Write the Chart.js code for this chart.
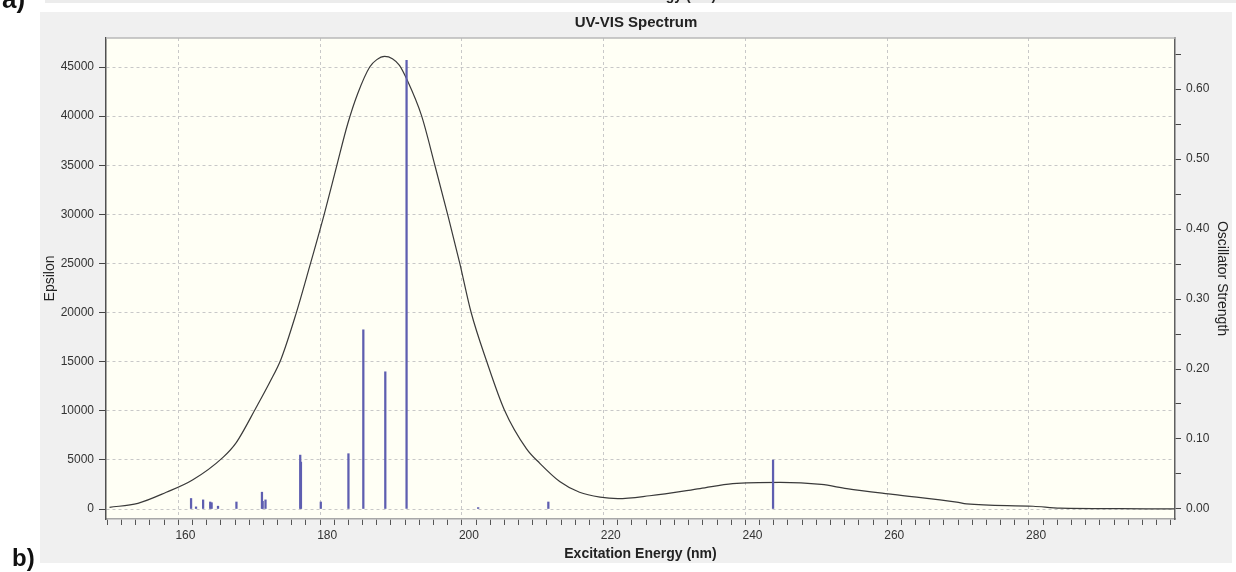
<!DOCTYPE html>
<html>
<head>
<meta charset="utf-8">
<script src="https://cdn.jsdelivr.net/npm/chart.js@4.4.1/dist/chart.umd.min.js"></script>
<style>
    html, body { margin: 0; padding: 0; background: #ffffff; }
    #wrap { width: 1236px; height: 572px; }
</style>
</head>
<body>
<div id="wrap"><canvas id="uvvis" width="1236" height="572"></canvas></div>
<script>
// Spectrum curve (Epsilon vs wavelength)
const waveNm = [149.3, 153.3, 157.3, 161.0, 165.3, 167.2, 170.0, 171.9, 173.5, 175.6,
    177.5, 179.6, 181.3, 182.9, 184.3, 186.0, 187.0, 188.1, 189.2, 190.2,
    191.2, 193.3, 195.2, 197.1, 198.7, 200.3, 202.5, 205.0, 208.1, 210.0,
    212.8, 215.6, 218.5, 221.0, 225.5, 232.6, 237.2, 243.9, 249.7, 253.3,
    259.8, 268.8, 270.2, 279.6, 283.4, 291.9, 299.5];
const epsilon = [170, 580, 1700, 2950, 5260, 6790, 10360, 12900, 15280, 19870,
    24620, 30050, 34800, 39220, 42280, 45000, 45750, 46080, 45850, 45170,
    43800, 40070, 34975, 29700, 25030, 20030, 15040, 10085, 6150, 4650,
    2800, 1700, 1200, 1050, 1350, 2080, 2580, 2720, 2500, 2080,
    1480, 700, 520, 280, 80, 30, 10];

// Excited states (oscillator strength sticks)
const stickNm = [160.8, 161.5, 162.5, 163.5, 163.7, 164.6, 167.2, 170.8, 170.9, 171.3,
    176.2, 176.3, 179.1, 183.0, 185.1, 188.2, 191.2, 201.3, 211.2, 242.9];
const stickStrength = [0.015, 0.003, 0.013, 0.010, 0.009, 0.004, 0.010, 0.024, 0.011, 0.013,
    0.077, 0.067, 0.010, 0.079, 0.256, 0.196, 0.641, 0.002, 0.010, 0.070];

// Axis ticks
const epsTicks = [0, 5000, 10000, 15000, 20000, 25000, 30000, 35000, 40000, 45000];
const oscTicks = [0, 0.05, 0.10, 0.15, 0.20, 0.25, 0.30, 0.35, 0.40, 0.45, 0.50, 0.55, 0.60, 0.65];
const xTickFirst = 150, xTickLast = 298, xTickStep = 2, xLabelStep = 20;

const FONT = '"Liberation Sans", Arial, sans-serif';
Chart.defaults.font.family = FONT;
Chart.defaults.color = "#333";

const backdrop = {
    id: "backdrop",
    beforeDraw(chart) {
        const { ctx, chartArea: a } = chart;
        ctx.save();
        ctx.fillStyle = "#ffffff";
        ctx.fillRect(0, 0, chart.width, chart.height);
        ctx.fillStyle = "#ececec";
        ctx.fillRect(45, 0, chart.width - 45, 3);
        ctx.fillStyle = "#f0f0f0";
        ctx.fillRect(40, 12, 1192, 551);
        ctx.fillStyle = "#fffff5";
        ctx.fillRect(a.left, a.top, a.right - a.left, a.bottom - a.top);

        ctx.fillStyle = "#111";
        ctx.font = "bold 26px " + FONT;
        ctx.textBaseline = "alphabetic";
        ctx.fillText("a)", 2, 8);
        ctx.font = "bold 24px " + FONT;
        ctx.fillText("b)", 12, 566);
        ctx.font = "bold 14px " + FONT;
        ctx.textAlign = "center";
        ctx.fillStyle = "#222";
        ctx.fillText("Excitation Energy (nm)", 640, 0);
        ctx.restore();
    },
    afterDatasetsDraw(chart) {
        const { ctx, chartArea: a } = chart;
        ctx.save();
        ctx.strokeStyle = "#b8b8b8";
        ctx.lineWidth = 1.5;
        ctx.beginPath();
        ctx.moveTo(a.left, a.top);
        ctx.lineTo(a.right, a.top);
        ctx.stroke();
        ctx.restore();
    }
};

const ctx = document.getElementById("uvvis").getContext("2d");

new Chart(ctx, {
    type: "line",
    data: {
        datasets: [
            {
                type: "bar",
                label: "Oscillator Strength",
                data: stickNm.map((x, i) => ({ x: x, y: stickStrength[i] })),
                xAxisID: "x",
                yAxisID: "y2",
                backgroundColor: "#5e5eb0",
                borderWidth: 0,
                barThickness: 1.6,
                grouped: false,
                order: 0
            },
            {
                type: "line",
                label: "Epsilon",
                data: waveNm.map((x, i) => ({ x: x, y: epsilon[i] })),
                xAxisID: "x",
                yAxisID: "y",
                borderColor: "#3a3a3a",
                borderWidth: 1.2,
                pointRadius: 0,
                cubicInterpolationMode: "monotone",
                fill: false,
                order: 1
            }
        ]
    },
    options: {
        responsive: false,
        animation: false,
        layout: { padding: { left: 40, right: 4, top: 12, bottom: 9 } },
        plugins: {
            legend: { display: false },
            tooltip: { enabled: false },
            title: {
                display: true,
                text: "UV-VIS Spectrum",
                color: "#222",
                font: { size: 15, weight: "bold" },
                padding: { top: 2, bottom: 6 }
            }
        },
        scales: {
            x: {
                type: "linear",
                position: "bottom",
                min: 148.8,
                max: 299.6,
                offset: false,
                afterBuildTicks: (scale) => {
                    const t = [];
                    for (let v = xTickFirst; v <= xTickLast; v += xTickStep) t.push({ value: v });
                    scale.ticks = t;
                },
                afterFit: (scale) => { scale.height = 44; },
                grid: {
                    color: (c) => (c.tick && c.tick.value % xLabelStep === 0) ? "#c8c8c8" : "rgba(0,0,0,0)",
                    tickColor: "#555",
                    tickLength: 6,
                    tickBorderDash: []
                },
                border: { color: "#a8a8a8", width: 1.5, dash: [3, 3] },
                ticks: {
                    autoSkip: false,
                    maxRotation: 0,
                    padding: 3,
                    color: "#333",
                    font: { size: 12 },
                    callback: (v) => (v % xLabelStep === 0 ? v : "")
                },
                title: {
                    display: true,
                    text: "Excitation Energy (nm)",
                    color: "#222",
                    font: { size: 14, weight: "bold" },
                    padding: { top: 2, bottom: 0 }
                }
            },
            y: {
                type: "linear",
                position: "left",
                min: -1018,
                max: 47953,
                afterBuildTicks: (scale) => { scale.ticks = epsTicks.map((v) => ({ value: v })); },
                afterFit: (scale) => { scale.width = 66; },
                grid: {
                    color: "#c8c8c8",
                    tickColor: "#444",
                    tickLength: 7,
                    tickBorderDash: []
                },
                border: { color: "#505050", width: 1.5, dash: [3, 3] },
                ticks: {
                    padding: 5,
                    color: "#333",
                    font: { size: 12 },
                    callback: (v) => v
                },
                title: {
                    display: true,
                    text: "Epsilon",
                    color: "#222",
                    font: { size: 14 },
                    padding: { top: 2, bottom: 0 }
                }
            },
            y2: {
                type: "linear",
                position: "right",
                min: -0.0143,
                max: 0.6729,
                afterBuildTicks: (scale) => { scale.ticks = oscTicks.map((v) => ({ value: v })); },
                afterFit: (scale) => { scale.width = 57; },
                grid: {
                    drawOnChartArea: false,
                    tickColor: "#444",
                    tickLength: 6
                },
                border: { color: "#606060", width: 1.5 },
                ticks: {
                    padding: 5,
                    color: "#333",
                    font: { size: 12 },
                    callback: (v) => (Math.round(v * 100) % 10 === 0 ? v.toFixed(2) : "")
                },
                title: {
                    display: true,
                    text: "Oscillator Strength",
                    color: "#222",
                    font: { size: 14 },
                    padding: { top: 2, bottom: 0 }
                }
            }
        }
    },
    plugins: [backdrop]
});
</script>
</body>
</html>
